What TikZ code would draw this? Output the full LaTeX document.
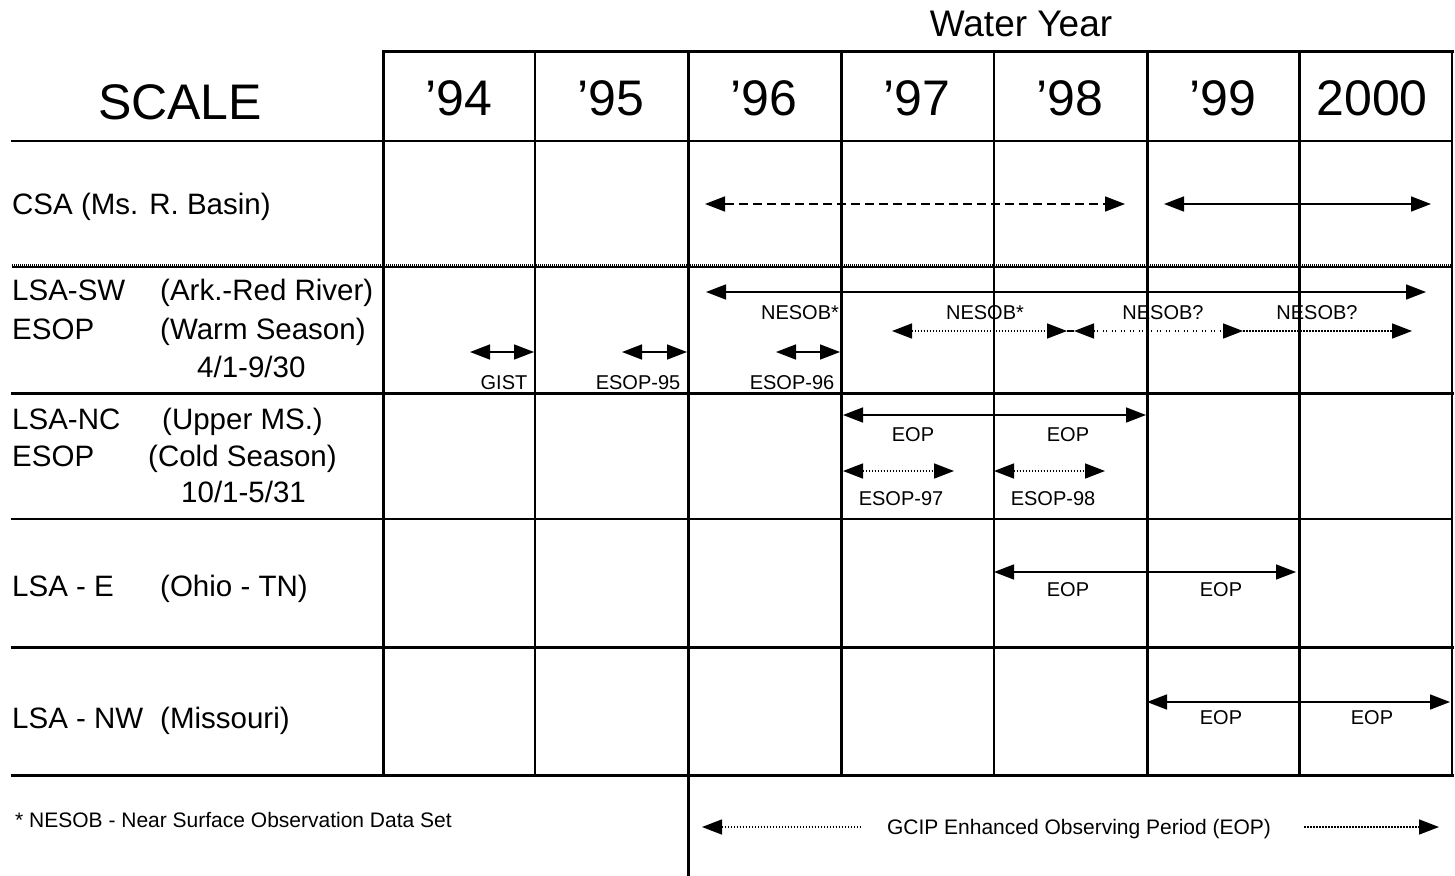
\documentclass[tikz,border=0pt]{standalone}
\usepackage{fontspec}
\setmainfont{Liberation Sans}
\usetikzlibrary{arrows.meta}
\begin{document}
\begin{tikzpicture}[x=1pt,y=-1pt,
  thk/.style={line width=3pt,line cap=rect},
  thn/.style={line width=1.5pt,line cap=rect},
  hdr/.style={font=\fontsize{50}{56}\selectfont, anchor=base, inner sep=0pt},
  ttl/.style={font=\fontsize{37}{40}\selectfont, anchor=base, inner sep=0pt},
  lbl/.style={font=\fontsize{29.5}{34}\selectfont, anchor=base west, inner sep=0pt},
  sml/.style={font=\fontsize{20}{24}\selectfont, anchor=base, inner sep=0pt},
  note/.style={font=\fontsize{21}{24}\selectfont, inner sep=0pt},
  arr/.style={line width=1.5pt, {Triangle[length=20pt,width=15pt]}-{Triangle[length=20pt,width=15pt]}},
  rarr/.style={line width=1.5pt, -{Triangle[length=20pt,width=15pt]}},
  larr/.style={line width=1.5pt, {Triangle[length=20pt,width=15pt]}-},
  dots/.style={dash pattern=on 1.5pt off 1.5pt},
  loosedots/.style={dash pattern=on 1.5pt off 1.5pt on 1.5pt off 4.5pt},
  dashes/.style={dash pattern=on 9pt off 5pt},
]
\useasboundingbox (0,0) rectangle (1455,875);
\fill[white] (0,0) rectangle (1455,875);

% ---------- grid ----------
\draw[thk] (383,52) -- (1452,52);
\draw[thn] (12,141) -- (1452,141);
\draw[line width=3pt, dash pattern=on 1pt off 1pt] (12,265) -- (1452,265);
\draw[line width=1.2pt] (12,267) -- (1452,267);
\draw[thk] (12,393) -- (1452,393);
\draw[thn] (12,519) -- (1452,519);
\draw[thk] (12,647) -- (1452,647);
\draw[thk] (12,775) -- (1452,775);
\foreach \x in {383,841,1147,1299} \draw[thk] (\x,52) -- (\x,775);
\draw[thk] (688,52) -- (688,875);
\foreach \x in {535,994} \draw[thn] (\x,52) -- (\x,775);
\draw[thn] (1452,52) -- (1452,775);

% ---------- headers ----------
\node[ttl] (wy) at (1021,37) {Water Year};
\node[hdr] (scale) at (180,119) {SCALE};
\node[hdr] (y94) at (459,115) {’94};
\node[hdr] (y95) at (611,115) {’95};
\node[hdr] (y96) at (764,115) {’96};
\node[hdr] (y97) at (917,115) {’97};
\node[hdr] (y98) at (1070,115) {’98};
\node[hdr] (y99) at (1223,115) {’99};
\node[hdr] (y00) at (1372,115) {2000};

% ---------- row labels ----------
\node[lbl] (csa) at (12,214) {CSA (Ms. R. Basin)};
\node[lbl] (sw1) at (12,300) {LSA-SW};
\node[lbl] (sw2) at (160,300) {(Ark.-Red River)};
\node[lbl] (sw3) at (12,339) {ESOP};
\node[lbl] (sw4) at (160,339) {(Warm Season)};
\node[lbl] (sw5) at (197,377) {4/1-9/30};
\node[lbl] (nc1) at (12,429) {LSA-NC};
\node[lbl] (nc2) at (162,429) {(Upper MS.)};
\node[lbl] (nc3) at (12,466) {ESOP};
\node[lbl] (nc4) at (148,466) {(Cold Season)};
\node[lbl] (nc5) at (181,502) {10/1-5/31};
\node[lbl] (e1) at (12,596) {LSA - E};
\node[lbl] (e2) at (160,596) {(Ohio - TN)};
\node[lbl] (nw1) at (12,728) {LSA - NW};
\node[lbl] (nw2) at (160,728) {(Missouri)};
\node[note, anchor=base west] (fn) at (15,827) {* NESOB - Near Surface Observation Data Set};

% ---------- CSA row ----------
\coordinate (c1a) at (705,204); \coordinate (c1b) at (1125,204);
\coordinate (c2a) at (1164,204); \coordinate (c2b) at (1431,204);
\draw[arr, dashes] (c1a) -- (c1b);
\draw[arr] (c2a) -- (c2b);

% ---------- LSA-SW row ----------
\coordinate (s0a) at (706,292); \coordinate (s0b) at (1426,292);
\draw[arr] (s0a) -- (s0b);
\node[sml] (ns1) at (800,319) {NESOB*};
\node[sml] (ns2) at (985,319) {NESOB*};
\node[sml] (ns3) at (1163,319) {NESOB?};
\node[sml] (ns4) at (1317,319) {NESOB?};
\coordinate (s1a) at (892,331); \coordinate (s1b) at (1067,331);
\coordinate (s2a) at (1074,331); \coordinate (s2b) at (1243,331);
\coordinate (s3b) at (1412,331);
\draw[arr, dots] (s1a) -- (s1b);
\draw[line width=1.5pt] (s1b) -- (s2a);
\draw[arr, loosedots] (s2a) -- (s2b);
\draw[rarr, dots] (s2b) -- (s3b);
\coordinate (g1a) at (470,352); \coordinate (g1b) at (534,352);
\coordinate (g2a) at (622,352); \coordinate (g2b) at (687,352);
\coordinate (g3a) at (776,352); \coordinate (g3b) at (840,352);
\draw[arr] (g1a) -- (g1b);
\draw[arr] (g2a) -- (g2b);
\draw[arr] (g3a) -- (g3b);
\node[sml] (gist) at (504,389) {GIST};
\node[sml] (e95) at (638,389) {ESOP-95};
\node[sml] (e96) at (792,389) {ESOP-96};

% ---------- LSA-NC row ----------
\coordinate (n1a) at (843,415); \coordinate (n1b) at (1146,415);
\draw[arr] (n1a) -- (n1b);
\node[sml] (eop1) at (913,441) {EOP};
\node[sml] (eop2) at (1068,441) {EOP};
\coordinate (n2a) at (843,471); \coordinate (n2b) at (954,471);
\coordinate (n3a) at (994,471); \coordinate (n3b) at (1105,471);
\draw[arr, dots] (n2a) -- (n2b);
\draw[arr, dots] (n3a) -- (n3b);
\node[sml] (e97) at (901,505) {ESOP-97};
\node[sml] (e98) at (1053,505) {ESOP-98};

% ---------- LSA-E row ----------
\coordinate (ea) at (994,572); \coordinate (eb) at (1296,572);
\draw[arr] (ea) -- (eb);
\node[sml] (eop3) at (1068,596) {EOP};
\node[sml] (eop4) at (1221,596) {EOP};

% ---------- LSA-NW row ----------
\coordinate (wa) at (1147,702); \coordinate (wb) at (1450,702);
\draw[arr] (wa) -- (wb);
\node[sml] (eop5) at (1221,724) {EOP};
\node[sml] (eop6) at (1372,724) {EOP};

% ---------- bottom row ----------
\node[note, anchor=base] (gcip) at (1079,834) {GCIP Enhanced Observing Period (EOP)};
\coordinate (b1a) at (702,827); \coordinate (b1b) at (860,827);
\coordinate (b2a) at (1304,827); \coordinate (b2b) at (1439,827);
\draw[larr, dots] (b1a) -- (b1b);
\draw[rarr, dots] (b2a) -- (b2b);
\end{tikzpicture}
\end{document}
